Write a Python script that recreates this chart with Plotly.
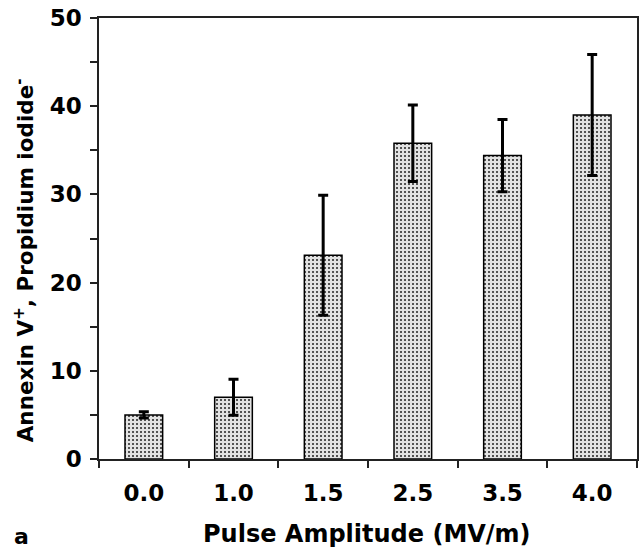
import plotly.graph_objects as go

categories = ["0.0", "1.0", "1.5", "2.5", "3.5", "4.0"]
values = [5.0, 7.0, 23.1, 35.8, 34.4, 39.0]
errors = [0.35, 2.05, 6.8, 4.35, 4.1, 6.85]
y_ticks = [0, 10, 20, 30, 40, 50]

FONT = "DejaVu Sans"

fig = go.Figure()
fig.add_trace(go.Bar(
    x=categories, y=values,
    width=0.42,
    marker=dict(
        color="#dcdcdc",
        line=dict(color="black", width=1.5),
        pattern=dict(shape=".", fgcolor="#222222", bgcolor="#e2e2e2",
                     size=4, solidity=0.2, fillmode="replace"),
    ),
    error_y=dict(type="data", array=errors, visible=True,
                 color="black", thickness=3, width=5),
    showlegend=False,
))

fig.update_layout(
    width=641, height=548,
    margin=dict(l=99, r=2, t=18, b=89),
    plot_bgcolor="white", paper_bgcolor="white",
    font=dict(family=FONT, size=23, color="black"),
    bargap=0.58,
)
fig.update_xaxes(
    type="category",
    showline=True, linecolor="#222222", linewidth=1.5, mirror=True,
    ticks="outside", ticklen=7, tickwidth=1.5, tickcolor="#222222",
    tickson="boundaries",
    tickfont=dict(family=FONT, size=23, color="black", weight="bold"),
    showgrid=False,
    ticklabelstandoff=13,
)
fig.update_yaxes(
    range=[0, 50],
    showline=True, linecolor="#222222", linewidth=1.5, mirror=True,
    tickvals=y_ticks,
    ticks="outside", ticklen=7, tickwidth=1.5, tickcolor="#222222",
    minor=dict(dtick=5, ticks="outside", ticklen=7, tickwidth=1.5, tickcolor="#222222", showgrid=False),
    tickfont=dict(family=FONT, size=23, color="black", weight="bold"),
    showgrid=False, zeroline=False,
    ticklabelstandoff=4,
)

fig.add_annotation(
    text="<b>Annexin V<sup>+</sup>, Propidium iodide<sup>-</sup></b>",
    xref="paper", yref="paper",
    x=(24 - 99) / 540, y=(459 - 260) / 441,
    textangle=-90, showarrow=False,
    xanchor="center", yanchor="middle",
    font=dict(family=FONT, size=21.5, color="black"),
)
fig.add_annotation(
    text="<b>Pulse Amplitude (MV/m)</b>",
    xref="paper", yref="paper",
    x=(368 - 99) / 540, y=(459 - 534) / 441,
    showarrow=False, xanchor="center", yanchor="middle",
    font=dict(family=FONT, size=24, color="black"),
)
fig.add_annotation(
    text="<b>a</b>",
    xref="paper", yref="paper",
    x=(21 - 99) / 540, y=(459 - 536) / 441,
    showarrow=False, xanchor="center", yanchor="middle",
    font=dict(family=FONT, size=22, color="black"),
)

fig.write_html("out.html")
